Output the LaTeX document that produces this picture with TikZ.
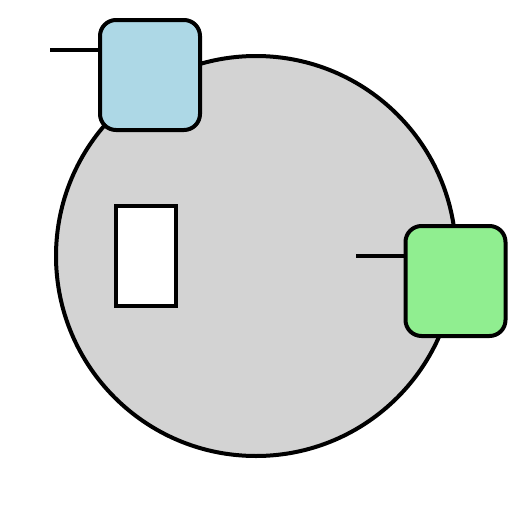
\documentclass[tikz,border=0pt]{standalone}
\usetikzlibrary{calc}
\definecolor{bodygrey}{HTML}{D3D3D3}
\definecolor{portblue}{HTML}{ADD8E6}
\definecolor{portgreen}{HTML}{90EE90}
\begin{document}
\begin{tikzpicture}[x=1pt,y=-1pt,
  outline/.style={draw=black,line width=4pt},
  portbox/.style={outline,rounded corners=16pt,minimum width=100pt,minimum height=110pt,inner sep=0pt},
  wire/.style={draw=black,line width=4pt}]
\useasboundingbox (0,0) rectangle (512,512);
\node[outline,circle,fill=bodygrey,minimum size=400pt,inner sep=0pt] (body) at (256,256) {};
\node[outline,fill=white,minimum width=60pt,minimum height=100pt,inner sep=0pt] (slot) at (146,256) {};
\node[portbox,fill=portblue] (blue) at (150,75) {};
\node[portbox,fill=portgreen] (green) at (455.5,281) {};
\coordinate (bluein) at (50,50);
\coordinate (greenin) at (356,256);
\draw[wire] (bluein) -- (bluein -| blue.west);
\draw[wire] (greenin) -- (greenin -| green.west);
\end{tikzpicture}
\end{document}
